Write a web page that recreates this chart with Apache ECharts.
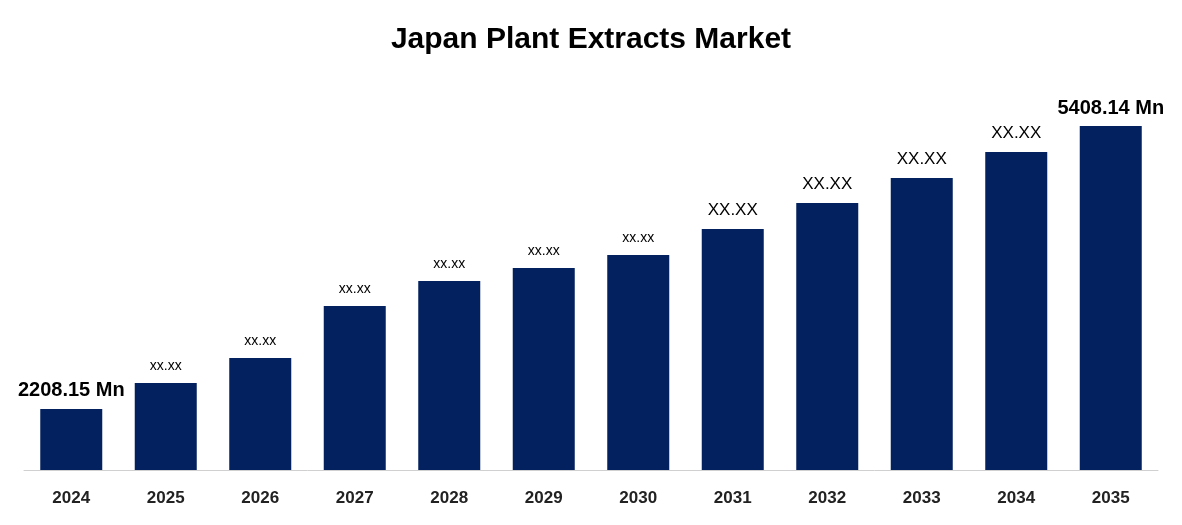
<!DOCTYPE html>
<html><head><meta charset="utf-8">
<script src="https://cdn.jsdelivr.net/npm/echarts@6/dist/echarts.min.js"></script>
<style>html,body{margin:0;padding:0;background:#fff}#c{width:1182px;height:525px}</style>
</head><body><div id="c"></div>
<script>
const categories = ['2024','2025','2026','2027','2028','2029','2030','2031','2032','2033','2034','2035'];
const values = [2208.15, 2502, 2785, 3373, 3656, 3803, 3950, 4244, 4538, 4821, 5115, 5408.14];
const labels = ['2208.15 Mn','xx.xx','xx.xx','xx.xx','xx.xx','xx.xx','xx.xx','XX.XX','XX.XX','XX.XX','XX.XX','5408.14 Mn'];
const labelSizes = [20,14,14,14,14,14,14,17,17,17,17,20];
const chart = echarts.init(document.getElementById('c'));
chart.setOption({
  animation:false,
  title:{text:'Japan Plant Extracts Market',left:'center',top:20,textStyle:{fontFamily:'Liberation Sans, Arial',fontWeight:'bold',fontSize:30,color:'#000'}},
  grid:{left:24,right:24,top:126,bottom:55},
  xAxis:{type:'category',data:categories,axisTick:{show:false},axisLine:{lineStyle:{color:'#d0d0d0'}},
    axisLabel:{color:'#222',fontWeight:'bold',fontSize:17,margin:20,fontFamily:'Liberation Sans, Arial'}},
  yAxis:{type:'value',min:1518,max:5408.14,show:false,splitLine:{show:false}},
  series:[{type:'bar',barWidth:62,itemStyle:{color:'#03215e'},
    data:values.map((v,i)=>({value:v,label:{show:true,position:'top',distance:i===0||i===11?8:10,
      formatter:labels[i],fontSize:labelSizes[i],fontWeight:(i===0||i===11)?'bold':'normal',color:'#000',fontFamily:'Liberation Sans, Arial'}}))}]
});
</script></body></html>
